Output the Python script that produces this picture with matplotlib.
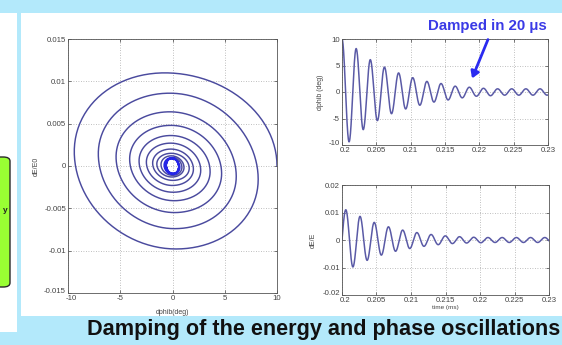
import numpy as np
import matplotlib
matplotlib.use("Agg")
import matplotlib.pyplot as plt
import matplotlib.transforms as mtrans
from matplotlib.patches import Rectangle, FancyBboxPatch, FancyArrowPatch

plt.rcParams['font.family'] = ['Liberation Sans', 'DejaVu Sans']

# ---------------- data ----------------
# extrema of the phase oscillation dphib (deg), alternating peak/trough, time in ms
dphi_t = [0.2 + 0.00103 * k for k in range(30)]
dphi_v = [10.0, -9.4, 8.2, -7.1, 6.1, -5.4, 4.7, -4.1, 3.6, -3.2,
          2.7, -2.5, 2.0, -1.9, 1.6, -1.5, 1.1, -1.1, 0.9, -0.8,
          0.7, -0.7, 0.6, -0.6, 0.6, -0.6, 0.6, -0.6, 0.6, -0.6]
# energy oscillation dE/E: starts at 0 (t=0.2) then extrema
dE_t = [0.2] + [0.20055 + 0.00103 * k for k in range(29)]
dE_v = [0.0, 0.0110, -0.0098, 0.0086, -0.0074, 0.0064, -0.0055, 0.0048, -0.0041,
        0.0036, -0.0031, 0.0027, -0.0023, 0.0020, -0.0017, 0.0015, -0.0013,
        0.0012, -0.0011, 0.0010, -0.0010, 0.0009, -0.0009, 0.0009, -0.0009,
        0.0009, -0.0009, 0.0009, -0.0009, 0.0009]

spiral_xticks = [-10, -5, 0, 5, 10]
spiral_xlabels = ['-10', '-5', '0', '5', '10']
spiral_yticks = [-0.015, -0.01, -0.005, 0, 0.005, 0.01, 0.015]
spiral_ylabels = ['-0.015', '-0.01', '-0.005', '0', '0.005', '0.01', '0.015']
time_ticks = [0.2, 0.205, 0.21, 0.215, 0.22, 0.225, 0.23]
time_labels = ['0.2', '0.205', '0.21', '0.215', '0.22', '0.225', '0.23']
phi_yticks = [-10, -5, 0, 5, 10]
phi_ylabels = ['-10', '-5', '0', '5', '10']
dE_yticks = [-0.02, -0.01, 0, 0.01, 0.02]
dE_ylabels = ['-0.02', '-0.01', '0', '0.01', '0.02']


def smooth_through(tk, vk, grid, start_crossing=False):
    """Draw a smooth curve through read extrema (half-cosine shaped segments)."""
    tk = np.asarray(tk); vk = np.asarray(vk)
    out = np.empty_like(grid)
    for i, t in enumerate(grid):
        j = np.searchsorted(tk, t, side='right') - 1
        if j >= len(tk) - 1:
            dt = tk[-1] - tk[-2]
            s = (t - tk[-1]) / dt
            out[i] = vk[-1] * np.cos(np.pi * s)
            continue
        j = max(j, 0)
        s = (t - tk[j]) / (tk[j + 1] - tk[j])
        if start_crossing and j == 0:
            out[i] = vk[1] * np.sin(np.pi / 2 * s)
        else:
            out[i] = vk[j] + (vk[j + 1] - vk[j]) * (1 - np.cos(np.pi * s)) / 2
    return out


grid = np.linspace(0.2, 0.23, 3000)
dphi = smooth_through(dphi_t, dphi_v, grid)
dE = smooth_through(dE_t, dE_v, grid, start_crossing=True)

# ---------------- figure ----------------
W, H = 562, 345
fig = plt.figure(figsize=(W / 100, H / 100), dpi=100)
fig.patch.set_facecolor('#b3e9fb')


def frect(x0, y0, x1, y1, **kw):
    fig.add_artist(Rectangle((x0 / W, 1 - y1 / H), (x1 - x0) / W, (y1 - y0) / H,
                             transform=fig.transFigure, zorder=0, **kw))


frect(21, 13, 562, 316, color='white', lw=0)
frect(0, 13, 17, 332, color='white', lw=0)
fig.add_artist(FancyBboxPatch(((-6) / W, 1 - 287 / H), 16 / W, 130 / H,
                              boxstyle='round,pad=0,rounding_size=0.012',
                              transform=fig.transFigure, facecolor='#99ff33',
                              edgecolor='#2a2a2a', lw=1.0, zorder=1))
fig.text(5 / W, 1 - 210 / H, 'y', fontsize=6, fontweight='bold', ha='center',
         va='center', color='#222222')


def axes_px(x0, y0, x1, y1):
    return fig.add_axes([x0 / W, 1 - y1 / H, (x1 - x0) / W, (y1 - y0) / H])


def style(ax):
    ax.set_facecolor('white')
    for s in ax.spines.values():
        s.set_color('#555555'); s.set_linewidth(0.6)
    ax.grid(True, color='#aaaaaa', linestyle=(0, (1, 2)), linewidth=0.6)
    ax.tick_params(direction='in', length=2, width=0.5, labelsize=5.6,
                   colors='#444444', pad=1.5, top=True, right=True)
    ax.set_axisbelow(True)


def nudge_corner(ax):
    # MATLAB-style corner labels: keep them side by side instead of on top of each other
    xl = ax.get_xticklabels()[0]
    xl.set_transform(xl.get_transform() + mtrans.ScaledTranslation(3 / 100, 0, fig.dpi_scale_trans))
    yl = ax.get_yticklabels()[0]
    yl.set_transform(yl.get_transform() + mtrans.ScaledTranslation(0, 2.5 / 100, fig.dpi_scale_trans))


line_col = '#4a4a9e'

# left spiral
ax1 = axes_px(68, 39, 277, 293)
style(ax1)
late = grid >= 0.219
ax1.plot(dphi[~late], dE[~late], color=line_col, lw=1.05)
ax1.plot(dphi[late], dE[late], color='#2626e6', lw=1.1)
ax1.set_xlim(-10, 10); ax1.set_ylim(-0.015, 0.015)
ax1.set_xticks(spiral_xticks); ax1.set_xticklabels(spiral_xlabels)
ax1.set_yticks(spiral_yticks); ax1.set_yticklabels(spiral_ylabels)
nudge_corner(ax1)
fig.text(172 / W, 1 - 313 / H, 'dphib(deg)', fontsize=5, ha='center', va='center', color='#444444')
fig.text(36 / W, 1 - 166 / H, 'dE/E0', fontsize=5, rotation=90, ha='center', va='center', color='#444444')

# top-right dphi vs time
ax2 = axes_px(342, 39, 548, 145)
style(ax2)
ax2.plot(grid, dphi, color='#5a5aa6', lw=1.1)
ax2.set_xlim(0.2, 0.23); ax2.set_ylim(-10, 10)
ax2.set_xticks(time_ticks); ax2.set_xticklabels(time_labels)
ax2.set_yticks(phi_yticks); ax2.set_yticklabels(phi_ylabels)
nudge_corner(ax2)
fig.text(320 / W, 1 - 92 / H, 'dphib (deg)', fontsize=5, rotation=90, ha='center', va='center', color='#444444')

# bottom-right dE vs time
ax3 = axes_px(342, 185, 549, 295)
style(ax3)
ax3.plot(grid, dE, color='#5a5aa6', lw=1.1)
ax3.set_xlim(0.2, 0.23); ax3.set_ylim(-0.02, 0.02)
ax3.set_xticks(time_ticks); ax3.set_xticklabels(time_labels)
ax3.set_yticks(dE_yticks); ax3.set_yticklabels(dE_ylabels)
nudge_corner(ax3)
fig.text(313 / W, 1 - 240 / H, 'dE/E', fontsize=5, rotation=90, ha='center', va='center', color='#444444')
fig.text(445 / W, 1 - 307 / H, 'time (ms)', fontsize=4.6, ha='center', va='center', color='#444444')

# annotation
fig.text(487 / W, 1 - 26 / H, 'Damped in 20 \u03bcs', fontsize=10.8, fontweight='bold',
         ha='center', va='center', color='#3a3ae6')
fig.add_artist(FancyArrowPatch(
    (489 / W, 1 - 37 / H), (471 / W, 1 - 81 / H), transform=fig.transFigure,
    arrowstyle='-|>,head_length=4,head_width=2.5', color='#2a2af0', lw=2, zorder=5))

# caption
fig.text(324 / W, 1 - 329 / H, 'Damping of the energy and phase oscillations',
         fontsize=15.6, fontweight='bold', ha='center', va='center', color='#111111')

fig.savefig('out.png', dpi=100, facecolor=fig.get_facecolor())
